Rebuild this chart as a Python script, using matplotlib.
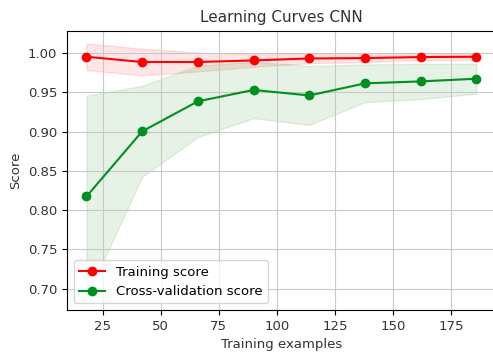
import matplotlib

matplotlib.use("Agg")

import matplotlib.pyplot as plt
import numpy as np

train_sizes = [18, 42, 66, 90, 114, 138, 162, 186]
train_scores_mean = [0.9953, 0.9886, 0.9886, 0.9906, 0.9931, 0.9936, 0.9949, 0.9953]
train_scores_std = [0.017, 0.017, 0.012, 0.008, 0.006, 0.005, 0.004, 0.004]
test_scores_mean = [0.8173, 0.9003, 0.9385, 0.9530, 0.9460, 0.9614, 0.9639, 0.9673]
test_scores_std = [0.1284, 0.058, 0.0455, 0.036, 0.0375, 0.024, 0.0225, 0.019]

train_mean = np.array(train_scores_mean)
train_std = np.array(train_scores_std)
test_mean = np.array(test_scores_mean)
test_std = np.array(test_scores_std)

fig = plt.figure(figsize=(4.93, 3.52), dpi=100)
ax = fig.add_axes([0.1359, 0.1193, 0.8700, 0.7935])

ax.set_title("Learning Curves CNN", fontsize=11, color="#333333")
ax.set_xlabel("Training examples", fontsize=9.5, color="#333333")
ax.set_ylabel("Score", fontsize=9.5, color="#333333")
ax.grid(True, color="#c8c8c8")

ax.fill_between(train_sizes, train_mean - train_std, train_mean + train_std, alpha=0.1, color="r")
ax.fill_between(train_sizes, test_mean - test_std, test_mean + test_std, alpha=0.1, color="g")
ax.plot(train_sizes, train_mean, "o-", color="r", label="Training score")
ax.plot(train_sizes, test_mean, "o-", color="#009020", label="Cross-validation score")

ax.tick_params(labelsize=9.5, labelcolor="#333333")
ax.legend(loc="lower left", fontsize=9.5)

fig.savefig("out.png", dpi=100)
